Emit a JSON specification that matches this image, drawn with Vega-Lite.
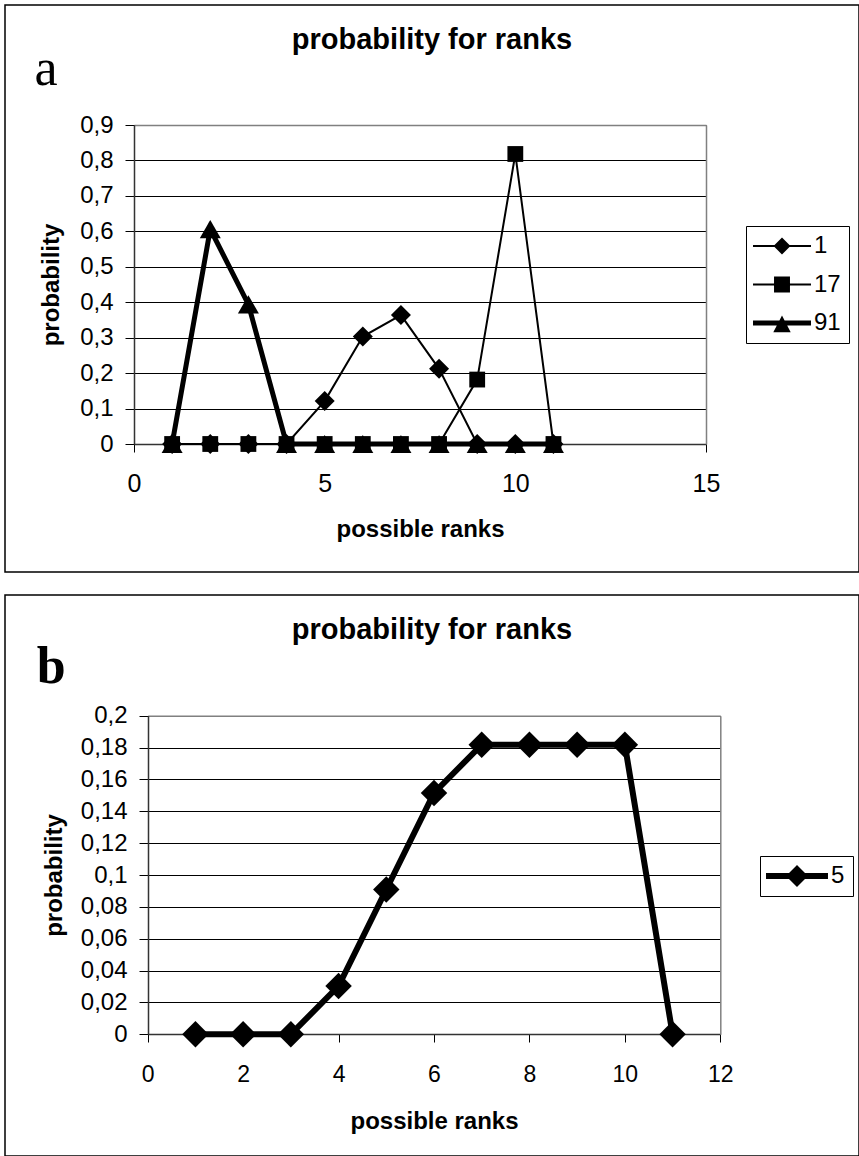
{
  "$schema": "https://vega.github.io/schema/vega-lite/v6.json",
  "padding": {"left": 4, "top": 4, "right": 0, "bottom": 0},
  "background": "white",
  "spacing": 21,
  "datasets": {
    "a": [
      {"rank": 1, "series": "1", "p": 0}, {"rank": 2, "series": "1", "p": 0}, {"rank": 3, "series": "1", "p": 0},
      {"rank": 4, "series": "1", "p": 0}, {"rank": 5, "series": "1", "p": 0.1212}, {"rank": 6, "series": "1", "p": 0.303},
      {"rank": 7, "series": "1", "p": 0.3636}, {"rank": 8, "series": "1", "p": 0.2121}, {"rank": 9, "series": "1", "p": 0},
      {"rank": 10, "series": "1", "p": 0}, {"rank": 11, "series": "1", "p": 0},
      {"rank": 1, "series": "17", "p": 0}, {"rank": 2, "series": "17", "p": 0}, {"rank": 3, "series": "17", "p": 0},
      {"rank": 4, "series": "17", "p": 0}, {"rank": 5, "series": "17", "p": 0}, {"rank": 6, "series": "17", "p": 0},
      {"rank": 7, "series": "17", "p": 0}, {"rank": 8, "series": "17", "p": 0}, {"rank": 9, "series": "17", "p": 0.1818},
      {"rank": 10, "series": "17", "p": 0.8182}, {"rank": 11, "series": "17", "p": 0},
      {"rank": 1, "series": "91", "p": 0}, {"rank": 2, "series": "91", "p": 0.6061}, {"rank": 3, "series": "91", "p": 0.3939},
      {"rank": 4, "series": "91", "p": 0}, {"rank": 5, "series": "91", "p": 0}, {"rank": 6, "series": "91", "p": 0},
      {"rank": 7, "series": "91", "p": 0}, {"rank": 8, "series": "91", "p": 0}, {"rank": 9, "series": "91", "p": 0},
      {"rank": 10, "series": "91", "p": 0}, {"rank": 11, "series": "91", "p": 0}
    ],
    "b": [
      {"rank": 1, "series": "5", "p": 0}, {"rank": 2, "series": "5", "p": 0}, {"rank": 3, "series": "5", "p": 0},
      {"rank": 4, "series": "5", "p": 0.0303}, {"rank": 5, "series": "5", "p": 0.0909}, {"rank": 6, "series": "5", "p": 0.1515},
      {"rank": 7, "series": "5", "p": 0.1818}, {"rank": 8, "series": "5", "p": 0.1818}, {"rank": 9, "series": "5", "p": 0.1818},
      {"rank": 10, "series": "5", "p": 0.1818}, {"rank": 11, "series": "5", "p": 0}
    ]
  },
  "config": {
    "font": "Liberation Sans",
    "view": {"stroke": "#000", "strokeWidth": 1.5},
    "axis": {
      "domainColor": "#333", "domainWidth": 1.5, "tickColor": "#000", "tickWidth": 1,
      "labelColor": "#000", "titleColor": "#000", "labelFont": "Liberation Sans", "titleFont": "Liberation Sans",
      "labelFontSize": 24, "titleFontSize": 24, "titleFontWeight": "bold",
      "gridColor": "#000", "gridOpacity": 1, "gridWidth": 1,
      "labelFlush": false, "labelOverlap": false
    },
    "legend": {"labelFont": "Liberation Sans", "labelColor": "#000"}
  },
  "resolve": {"scale": {"shape": "independent"}, "legend": {"shape": "independent"}},
  "vconcat": [
    {
      "width": 854,
      "height": 567,
      "title": {"text": "probability for ranks", "fontSize": 29, "fontWeight": "bold", "anchor": "middle", "frame": "group", "offset": -50, "color": "#000"},
      "data": {"name": "a"},
      "layer": [
        {
          "mark": {"type": "line", "color": "#000"},
          "encoding": {
            "x": {"field": "rank", "type": "quantitative",
              "scale": {"domain": [0, 15], "range": [129, 701], "nice": false, "zero": false},
              "axis": {"orient": "bottom", "title": "possible ranks", "values": [0, 5, 10, 15], "offset": -128, "grid": false, "tickSize": 8, "labelPadding": 19, "labelFontSize": 25, "titleY": 73, "titleBaseline": "top"}},
            "y": {"field": "p", "type": "quantitative",
              "scale": {"domain": [0, 0.9], "range": [439, 120], "nice": false, "zero": false},
              "axis": {"orient": "left", "title": "probability", "values": [0, 0.1, 0.2, 0.3, 0.4, 0.5, 0.6, 0.7, 0.8, 0.9], "offset": -129, "grid": true, "tickSize": 9, "labelPadding": 12,
                "labelExpr": "replace(format(datum.value, '~g'), '.', ',')", "titleX": -71, "titleBaseline": "bottom"}},
            "detail": {"field": "series"},
            "strokeWidth": {"condition": {"test": "datum.series === '91'", "value": 5}, "value": 2}
          }
        },
        {
          "mark": {"type": "point", "filled": true, "color": "#000", "opacity": 1},
          "encoding": {
            "x": {"field": "rank", "type": "quantitative",
              "scale": {"domain": [0, 15], "range": [129, 701], "nice": false, "zero": false},
              "axis": {"orient": "top", "offset": -120, "domain": true, "domainColor": "#808080", "domainWidth": 1.5, "ticks": false, "labels": false, "grid": false, "title": null}},
            "y": {"field": "p", "type": "quantitative",
              "scale": {"domain": [0, 0.9], "range": [439, 120], "nice": false, "zero": false},
              "axis": {"orient": "right", "offset": -153, "domain": true, "domainColor": "#808080", "domainWidth": 1.5, "ticks": false, "labels": false, "grid": false,
                "title": "a", "titleAngle": 0, "titleFont": "Liberation Serif", "titleFontSize": 52, "titleFontWeight": "normal", "titleX": -672, "titleY": 79, "titleAlign": "left", "titleBaseline": "alphabetic"}},
            "shape": {"field": "series", "type": "nominal", "scale": {"domain": ["1", "17", "91"], "range": ["diamond", "square", "triangle-up"]}, "legend": null},
            "size": {"condition": [{"test": "datum.series === '1'", "value": 400}, {"test": "datum.series === '17'", "value": 250}], "value": 441}
          }
        },
        {
          "mark": {"type": "point", "filled": true, "color": "#000", "opacity": 0},
          "encoding": {
            "shape": {"field": "series", "type": "nominal",
              "scale": {"domain": ["1", "17", "91"], "range": [
                "M-4,-0.14H4V0.14H-4ZM-1.17,0L0,-1.17L1.17,0L0,1.17Z",
                "M-4,-0.14H4V0.14H-4ZM-1.1,-1.1H1.1V1.1H-1.1Z",
                "M-4,-0.35H4V0.35H-4ZM0,-1.05L1.2,1.28L-1.2,1.28Z"
              ]},
              "legend": {"title": null, "orient": "none", "legendX": 741, "legendY": 221, "padding": 8,
                "strokeColor": "#000", "fillColor": "#fff",
                "symbolSize": 210, "symbolOpacity": 1, "symbolFillColor": "#000", "symbolStrokeColor": "#000", "symbolStrokeWidth": 0,
                "symbolOffset": 16, "labelOffset": 20, "labelFontSize": 24, "rowPadding": 14.5}
            }
          }
        }
      ],
      "resolve": {"axis": {"x": "independent", "y": "independent"}, "scale": {"shape": "independent"}}
    },
    {
      "width": 854,
      "height": 561,
      "title": {"text": "probability for ranks", "fontSize": 29, "fontWeight": "bold", "anchor": "middle", "frame": "group", "offset": -50, "color": "#000"},
      "data": {"name": "b"},
      "layer": [
        {
          "mark": {"type": "line", "color": "#000", "strokeWidth": 6},
          "encoding": {
            "x": {"field": "rank", "type": "quantitative",
              "scale": {"domain": [0, 12], "range": [142.7, 715.3], "nice": false, "zero": false},
              "axis": {"orient": "bottom", "title": "possible ranks", "values": [0, 2, 4, 6, 8, 10, 12], "offset": -122, "grid": false, "tickSize": 8, "labelPadding": 21, "labelFontSize": 23, "titleY": 75, "titleBaseline": "top"}},
            "y": {"field": "p", "type": "quantitative",
              "scale": {"domain": [0, 0.2], "range": [439.3, 120.7], "nice": false, "zero": false},
              "axis": {"orient": "left", "title": "probability", "values": [0, 0.02, 0.04, 0.06, 0.08, 0.1, 0.12, 0.14, 0.16, 0.18, 0.2], "offset": -143, "grid": true, "tickSize": 9, "labelPadding": 12,
                "labelExpr": "replace(format(datum.value, '~g'), '.', ',')", "titleX": -82, "titleBaseline": "bottom"}},
            "detail": {"field": "series"}
          }
        },
        {
          "mark": {"type": "point", "filled": true, "color": "#000", "opacity": 1, "size": 700, "shape": "diamond"},
          "encoding": {
            "x": {"field": "rank", "type": "quantitative",
              "scale": {"domain": [0, 12], "range": [142.7, 715.3], "nice": false, "zero": false},
              "axis": {"orient": "top", "offset": -120.7, "domain": true, "domainColor": "#808080", "domainWidth": 1.5, "ticks": false, "labels": false, "grid": false, "title": null}},
            "y": {"field": "p", "type": "quantitative",
              "scale": {"domain": [0, 0.2], "range": [439.3, 120.7], "nice": false, "zero": false},
              "axis": {"orient": "right", "offset": -138.7, "domain": true, "domainColor": "#808080", "domainWidth": 1.5, "ticks": false, "labels": false, "grid": false,
                "title": "b", "titleAngle": 0, "titleFont": "Liberation Serif", "titleFontSize": 52, "titleFontWeight": "bold", "titleX": -684, "titleY": 87, "titleAlign": "left", "titleBaseline": "alphabetic"}}
          }
        },
        {
          "mark": {"type": "point", "filled": true, "color": "#000", "opacity": 0},
          "encoding": {
            "shape": {"field": "series", "type": "nominal",
              "scale": {"domain": ["5"], "range": ["M-4,-0.39H4V0.39H-4ZM-1.42,0L0,-1.42L1.42,0L0,1.42Z"]},
              "legend": {"title": null, "orient": "none", "legendX": 755, "legendY": 261, "padding": 8,
                "strokeColor": "#000", "fillColor": "#fff",
                "symbolSize": 240, "symbolOpacity": 1, "symbolFillColor": "#000", "symbolStrokeColor": "#000", "symbolStrokeWidth": 0,
                "symbolOffset": 17, "labelOffset": 22, "labelFontSize": 24}
            }
          }
        }
      ],
      "resolve": {"axis": {"x": "independent", "y": "independent"}}
    }
  ]
}
